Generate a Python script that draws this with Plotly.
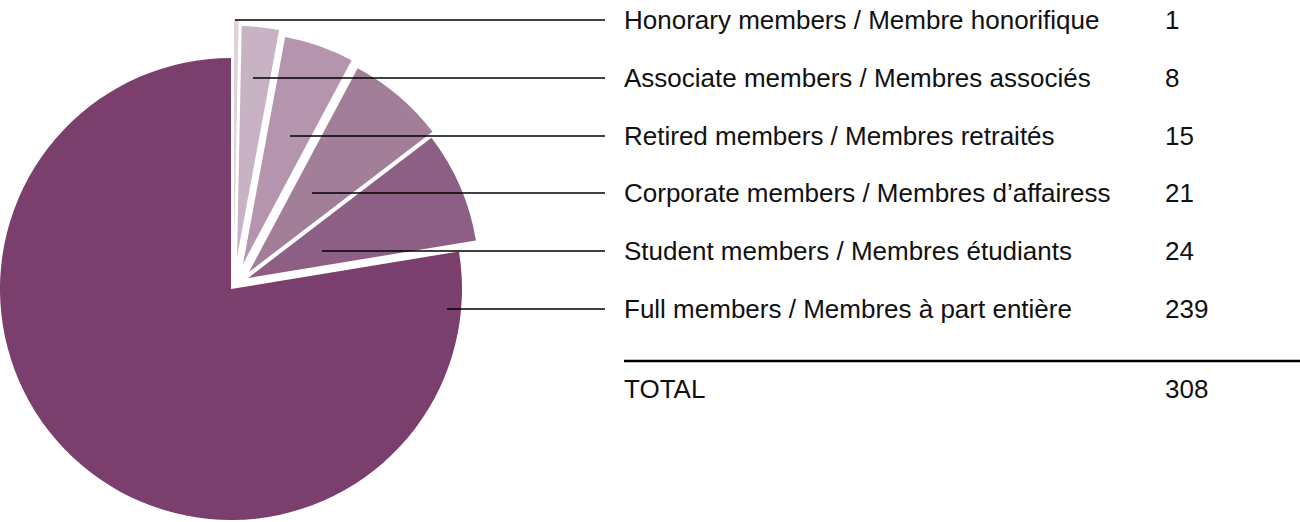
import plotly.graph_objects as go

# ---- data ----
labels = [
    "Honorary members / Membre honorifique",
    "Associate members / Membres associés",
    "Retired members / Membres retraités",
    "Corporate members / Membres d’affairess",
    "Student members / Membres étudiants",
    "Full members / Membres à part entière",
]
values = [1, 8, 15, 21, 24, 239]
colors = ["#E2D2D4", "#C8B3C4", "#B594AD", "#A37E99", "#8E5F84", "#7B3F6E"]
total_label = "TOTAL"

# ---- layout config (pixels) ----
W, H = 1300, 522
CX, CY, R = 231, 289, 231
# translation of each exploded slice (dx, dy) in px
offsets = [(3, -38), (6, -32), (12, -25), (18, -17), (17, -11), (0, 0)]
row_y = [20, 78, 136, 193, 251, 309]
leader_start_x = [235, 253, 290, 312, 322, 447]
leader_end_x = 605
label_x = 622
value_x = 1163
rule_x0 = 624
rule_y = 361
total_y = 389

FONT = "Liberation Sans, Arial, Helvetica, sans-serif"
FS = 26

fig = go.Figure()

for i in range(len(values)):
    dx, dy = offsets[i]
    cx, cy = CX + dx, CY + dy
    cols = ["rgba(0,0,0,0)"] * len(values)
    cols[i] = colors[i]
    fig.add_trace(go.Pie(
        labels=labels,
        values=values,
        sort=False,
        direction="clockwise",
        rotation=0,
        marker=dict(colors=cols, line=dict(width=0)),
        textinfo="none",
        hoverinfo="label+value",
        showlegend=False,
        domain=dict(
            x=[(cx - R) / W, (cx + R) / W],
            y=[1 - (cy + R) / H, 1 - (cy - R) / H],
        ),
    ))

shapes = []
annotations = []
for i, lab in enumerate(labels):
    y = 1 - row_y[i] / H
    shapes.append(dict(type="line", xref="paper", yref="paper",
                       x0=leader_start_x[i] / W, x1=leader_end_x / W, y0=y, y1=y,
                       line=dict(color="#000000", width=1.5)))
    annotations.append(dict(xref="paper", yref="paper", x=label_x / W, y=y,
                            xanchor="left", yanchor="middle", showarrow=False,
                            text=lab, font=dict(family=FONT, size=FS, color="#111111")))
    annotations.append(dict(xref="paper", yref="paper", x=value_x / W, y=y,
                            xanchor="left", yanchor="middle", showarrow=False,
                            text=str(values[i]), font=dict(family=FONT, size=FS, color="#111111")))

shapes.append(dict(type="line", xref="paper", yref="paper",
                   x0=rule_x0 / W, x1=1, y0=1 - rule_y / H, y1=1 - rule_y / H,
                   line=dict(color="#000000", width=2.5)))
annotations.append(dict(xref="paper", yref="paper", x=label_x / W, y=1 - total_y / H,
                        xanchor="left", yanchor="middle", showarrow=False,
                        text=total_label, font=dict(family=FONT, size=FS, color="#111111")))
annotations.append(dict(xref="paper", yref="paper", x=value_x / W, y=1 - total_y / H,
                        xanchor="left", yanchor="middle", showarrow=False,
                        text=str(sum(values)), font=dict(family=FONT, size=FS, color="#111111")))

fig.update_layout(
    width=W, height=H,
    margin=dict(l=0, r=0, t=0, b=0),
    paper_bgcolor="white", plot_bgcolor="white",
    shapes=shapes, annotations=annotations,
)

fig.write_html(
    "out.html",
    config={"displayModeBar": False},
    post_script="document.body.style.margin='0';document.body.style.overflow='hidden';",
)
